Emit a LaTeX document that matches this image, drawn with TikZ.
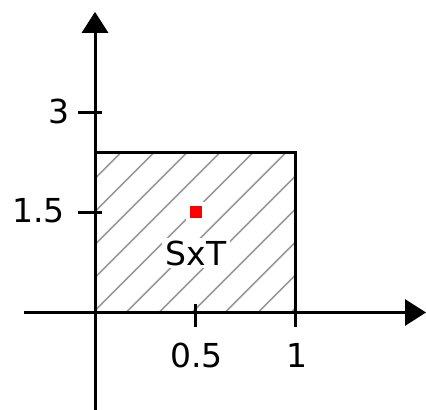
\documentclass[tikz,border=0pt]{standalone}
\usepackage{fontspec}
\setmainfont{DejaVu Sans}
\usetikzlibrary{arrows.meta}

\begin{document}
\begin{tikzpicture}[x=100pt,y=33.333pt,
  axis/.style={line width=1.5pt, -{Triangle[width=13pt,length=10.5pt]}},
  tick/.style={line width=1.5pt},
  hatch/.style={black!40, line width=.75pt},
  lbl/.style={font=\fontsize{16.5}{20}\selectfont, inner sep=0pt}]

\definecolor{dot}{RGB}{255,0,0}

\path[use as bounding box] (-.475,-1.4625) rectangle (1.655,4.6875);

% hatching of the region
\begin{scope}
  \clip (0,0) rectangle (1,2.4);
  \foreach \k in {-5,...,10} \draw[hatch] ({.13+.165*\k},2.4) -- ++(-.8,-2.4);
\end{scope}

% region
\draw[line width=1.5pt] (0,0) rectangle (1,2.4);

% axes
\coordinate (xstart) at (-.355,0);
\coordinate (xend) at (1.655,0);
\coordinate (ystart) at (0,-1.4625);
\coordinate (yend) at (0,4.51);
\draw[axis] (xstart) -- (xend);
\draw[axis] (ystart) -- (yend);

% ticks
\draw[tick] (-.085,3) -- (.035,3);
\draw[tick] (-.085,1.5) -- (.035,1.5);
\draw[tick] (.5,.12) -- (.5,-.21);
\draw[tick] (1,.12) -- (1,-.21);

% tick labels
\node[lbl] (ythree) at (-.18,3.01) {3};
\node[lbl] (yhalf) at (-.2825,1.53) {1.5};
\node[lbl] (xhalf) at (.5075,-.6375) {0.5};
\node[lbl] (xone) at (1.01,-.6375) {1};

% point and name
\node[fill=dot, draw=white, line width=2pt, minimum size=8pt, inner sep=0pt] (pt) at (.505,1.5) {};
\node[lbl, fill=white, inner xsep=2pt, inner ysep=1.5pt] (name) at (.505,.8925) {SxT};

\end{tikzpicture}
\end{document}
